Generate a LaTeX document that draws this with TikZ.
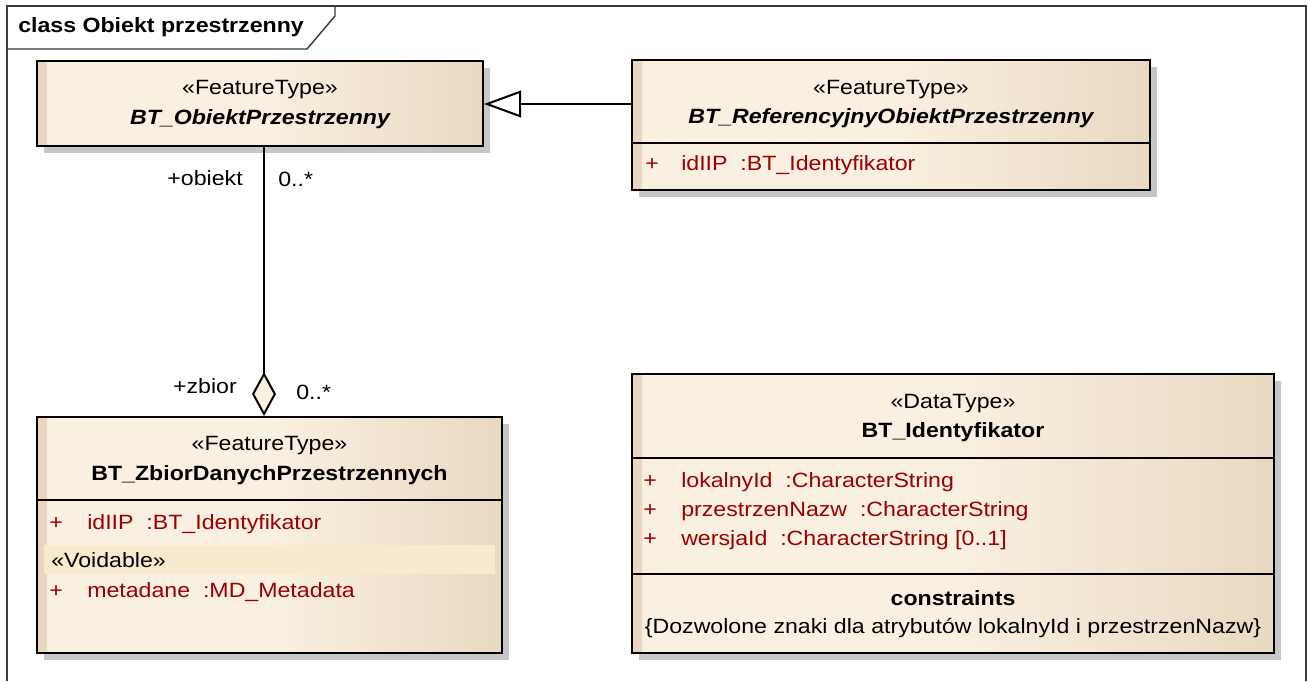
\documentclass[tikz,border=0pt]{standalone}
\usepackage{fontspec}
\setmainfont{Liberation Sans}[FakeStretch=1.12]
\usetikzlibrary{arrows.meta,shadows}
\definecolor{cA}{RGB}{250,240,225}
\definecolor{cB}{RGB}{233,217,194}
\definecolor{cStrip}{RGB}{232,214,190}
\definecolor{cVoid}{RGB}{249,233,207}
\definecolor{attr}{RGB}{155,0,0}
\definecolor{frame}{RGB}{60,60,60}
\pgfdeclarehorizontalshading{classshade}{100bp}{color(0bp)=(cA); color(50bp)=(cA); color(75bp)=(cB); color(100bp)=(cB)}
\tikzset{
  cls/.style={rectangle, draw=black, line width=1.5pt, shading=classshade, inner sep=0pt,
    drop shadow={shadow xshift=5.25pt, shadow yshift=-5.25pt, fill=black!22, opacity=1},
    path picture={\fill[cStrip] (path picture bounding box.north west) rectangle ([xshift=7.5pt]path picture bounding box.south west);}},
  div/.style={draw=black, line width=1.5pt},
  txt/.style={inner sep=0pt, font=\fontsize{15.5pt}{18pt}\selectfont},
  atr/.style={txt, anchor=base west, text=attr},
  conn/.style={draw=black, line width=1.5pt},
}
\begin{document}
\begin{tikzpicture}[x=0.75pt, y=-0.75pt]
\useasboundingbox (0,0) rectangle (1308,681);
\fill[white] (0,0) rectangle (1308,681);
% frame
\draw[frame, line width=1.5pt] (6.5,681) -- (6.5,6) -- (1305.5,6) -- (1305.5,681);
\draw[frame, line width=1.1pt] (6.5,49) -- (307,49) -- (335,16) -- (335,6);
\node[txt, anchor=base west] (title) at (18,33) {\bfseries class Obiekt przestrzenny};

% classes
\node[cls, minimum width=334.5pt, minimum height=63.75pt] (c1) at (260,103.5) {};
\node[cls, minimum width=388.5pt, minimum height=97.5pt] (c2) at (891,125) {};
\node[cls, minimum width=348.75pt, minimum height=177pt] (c3) at (269.5,535) {};
\node[cls, minimum width=481.5pt, minimum height=209.25pt] (c4) at (953,513.5) {};

% class 1
\node[txt, anchor=base] (c1s) at (260,95) {«FeatureType»};
\node[txt, anchor=base] (c1n) at (260,125) {\bfseries\itshape BT\_ObiektPrzestrzenny};

% class 2
\draw[div] (c2.west |- 0,143) -- (c2.east |- 0,143);
\node[txt, anchor=base] (c2s) at (891,95) {«FeatureType»};
\node[txt, anchor=base] (c2n) at (891,123) {\bfseries\itshape BT\_ReferencyjnyObiektPrzestrzenny};
\node[atr] (c2p) at (645,171) {+};
\node[atr] (c2a) at (681,171) {idIIP\ \ :BT\_Identyfikator};

% class 3
\draw[div] (c3.west |- 0,500) -- (c3.east |- 0,500);
\node[txt, anchor=base] (c3s) at (269.5,450) {«FeatureType»};
\node[txt, anchor=base] (c3n) at (269.5,480) {\bfseries BT\_ZbiorDanychPrzestrzennych};
\node[atr] (c3p1) at (49,529) {+};
\node[atr] (c3a1) at (87,529) {idIIP\ \ :BT\_Identyfikator};
\fill[cVoid] (44,545) rectangle (495,574);
\node[txt, anchor=base west] (c3v) at (51,567) {«Voidable»};
\node[atr] (c3p2) at (49,597) {+};
\node[atr] (c3a2) at (87,597) {metadane\ \ :MD\_Metadata};

% class 4
\draw[div] (c4.west |- 0,458) -- (c4.east |- 0,458);
\draw[div] (c4.west |- 0,574) -- (c4.east |- 0,574);
\node[txt, anchor=base] (c4s) at (953,408) {«DataType»};
\node[txt, anchor=base] (c4n) at (953,437) {\bfseries BT\_Identyfikator};
\node[atr] (c4p1) at (643,487) {+};
\node[atr] (c4a1) at (681,487) {lokalnyId\ \ :CharacterString};
\node[atr] (c4p2) at (643,516) {+};
\node[atr] (c4a2) at (681,516) {przestrzenNazw\ \ :CharacterString};
\node[atr] (c4p3) at (643,545) {+};
\node[atr] (c4a3) at (681,545) {wersjaId\ \ :CharacterString [0..1]};
\node[txt, anchor=base] (c4c) at (953,605) {\bfseries constraints};
\node[txt, anchor=base] (c4ct) at (953,633) {\{Dozwolone znaki dla atrybutów lokalnyId i przestrzenNazw\}};

% connectors
\coordinate (ay) at (0,104);
\coordinate (ax) at (264,0);
\draw[conn, -{Triangle[length=27.75pt, width=20pt, fill=white, line width=1.5pt]}] (c2.west |- ay) -- (c1.east |- ay);
\draw[conn, -{Diamond[length=33pt, width=18pt, fill=cA, line width=1.5pt]}] (c1.south -| ax) -- (c3.north -| ax);

% role labels
\node[txt, anchor=base east] (l1) at (243,185) {+obiekt};
\node[txt, anchor=base west] (l2) at (278,186) {0..*};
\node[txt, anchor=base east] (l3) at (237,393) {+zbior};
\node[txt, anchor=base west] (l4) at (296,399) {0..*};
\end{tikzpicture}
\end{document}
